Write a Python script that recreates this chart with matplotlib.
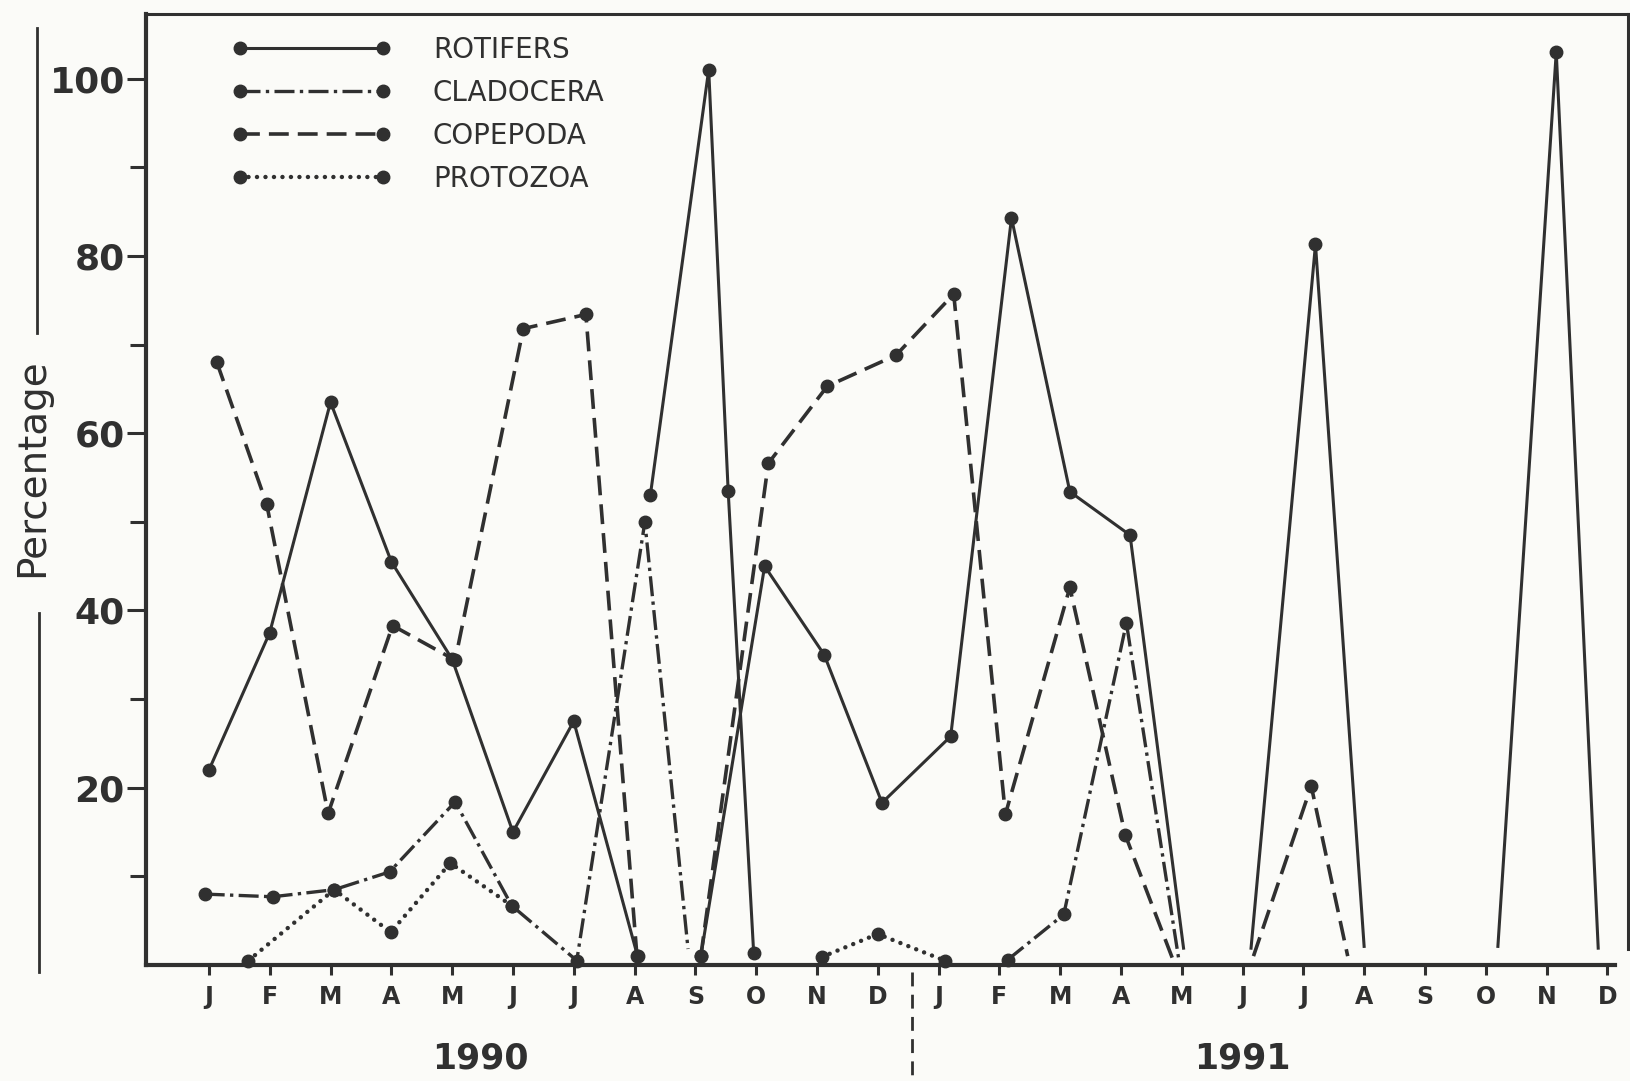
import numpy as np
import matplotlib
matplotlib.use("Agg")
import matplotlib.pyplot as plt
from matplotlib.lines import Line2D

nan = np.nan

months = ["J", "F", "M", "A", "M", "J", "J", "A", "S", "O", "N", "D",
          "J", "F", "M", "A", "M", "J", "J", "A", "S", "O", "N", "D"]
years = ["1990", "1991"]

# x = month index from Jan 1990 (points in the original sit a bit off the ticks)
rot_x = [0, 1, 2, 3, 4, 5, 6, 7.05, nan, 7.26, 8.22, 8.54, 8.96, nan,
         8.09, 9.14, 10.12, 11.07, 12.2, 13.2, 14.16, 15.15, 16.03, nan,
         17.14, 18.2, 19.0, nan, 21.2, 22.16, 22.85]
rot_y = [22, 37.5, 63.5, 45.5, 34.5, 15, 27.5, 1, nan, 53, 101, 53.5, 1.3, nan,
         1, 45, 35, 18.3, 25.8, 84.3, 53.4, 48.5, 1.9, nan,
         1.9, 81.3, 2.1, nan, 2.1, 103, 1.9]
rot_open = [22, 24, 26, 28, 30]

cla_x = [-0.07, 1.05, 2.06, 2.97, 4.05, 4.98, 6.05, 7.17, 7.88, nan,
         13.14, 14.06, 15.09, 15.95]
cla_y = [8, 7.7, 8.5, 10.5, 18.4, 6.7, 0.5, 50, 1.8, nan,
         0.6, 5.7, 38.6, 0.7]
cla_open = [8, 13]

cop_x = [0.13, 0.95, 1.96, 3.02, 4.05, 5.17, 6.2, 7.04, nan,
         8.09, 9.2, 10.17, 11.3, 12.25, 13.1, 14.16, 15.07, 15.85, nan,
         17.18, 18.13, 18.73]
cop_y = [68, 52, 17.1, 38.3, 34.4, 71.8, 73.4, 1, nan,
         1, 56.6, 65.3, 68.8, 75.7, 17, 42.6, 14.7, 0.7, nan,
         1, 20.2, 1]
cop_open = [17, 19, 21]

pro_x = [0.65, 2.06, 2.99, 3.97, 4.98, nan, 10.08, 11.0, 12.1]
pro_y = [0.5, 8.5, 3.7, 11.5, 6.7, nan, 0.9, 3.5, 0.5]
pro_open = []

ink = "#303030"
paper = "#fbfbf8"

series = [
    ("ROTIFERS", rot_x, rot_y, rot_open, dict(ls="-", lw=2.2)),
    ("CLADOCERA", cla_x, cla_y, cla_open, dict(ls=(0, (6, 1.6, 1, 1.6)), lw=2.4)),
    ("COPEPODA", cop_x, cop_y, cop_open, dict(ls=(0, (5.5, 2.5)), lw=2.6)),
    ("PROTOZOA", pro_x, pro_y, pro_open, dict(ls=(0, (0.01, 1.9)), lw=3.2,
                                             dash_capstyle="round")),
]

fig = plt.figure(figsize=(16.3, 10.81), dpi=100, facecolor=paper)
ax = fig.add_axes([145.7 / 1630, 1 - 965 / 1081, (1628 - 145.7) / 1630, (965 - 14) / 1081])
ax.set_facecolor(paper)

handles = []
for name, xs, ys, opened, st in series:
    xs = np.array(xs, float)
    ys = np.array(ys, float)
    ax.plot(xs, ys, color=ink, clip_on=False, zorder=3, **st)
    keep = [i for i in range(len(xs)) if not np.isnan(xs[i]) and i not in opened]
    ax.plot(xs[keep], ys[keep], ls="none", marker="o", ms=9, color=ink,
            clip_on=False, zorder=4)
    handles.append(Line2D([], [], color=ink, marker="o", ms=9, **st))

ax.set_xlim(-1.04, 23.34)
ax.set_ylim(0, 107.3)

for s in ["left", "bottom"]:
    ax.spines[s].set_linewidth(3)
    ax.spines[s].set_color(ink)
for s in ["top", "right"]:
    ax.spines[s].set_linewidth(2.2)
    ax.spines[s].set_color(ink)
ax.spines["bottom"].set_bounds(-1.04, 23.13)
ax.spines["right"].set_bounds(1.8, 107.3)

ax.set_xticks(range(len(months)))
ax.set_xticklabels(months, fontsize=17, fontweight="bold", color=ink)
ax.tick_params(axis="x", direction="out", length=7.5, width=2.2, pad=7, color=ink)

ax.set_yticks([20, 40, 60, 80, 100])
ax.set_yticks([10, 30, 50, 70, 90], minor=True)
ax.set_yticklabels(["20", "40", "60", "80", "100"], fontsize=26, fontweight="bold",
                   color=ink)
ax.tick_params(axis="y", which="major", direction="out", length=13.5, width=2.2,
               pad=1.5, color=ink)
ax.tick_params(axis="y", which="minor", direction="out", length=11.5, width=2.2,
               color=ink)

leg = ax.legend(handles, [s[0] for s in series], loc="upper left",
                bbox_to_anchor=(0.058, 0.977), frameon=False, fontsize=20,
                numpoints=2, handlelength=5.74, handletextpad=1.5,
                labelspacing=0.54, borderpad=0, borderaxespad=0)
for t in leg.get_texts():
    t.set_color(ink)

# 1990 / 1991 divider and year labels below the axis
ax.plot([11.57, 11.57], [-0.8, -13.2], color=ink, lw=2, ls=(0, (5, 3)),
        clip_on=False)
ax.text(4.47, -10.6, years[0], ha="center", va="center", fontsize=25,
        fontweight="bold", color=ink, clip_on=False)
ax.text(17.0, -10.5, years[1], ha="center", va="center", fontsize=25,
        fontweight="bold", color=ink, clip_on=False)

# y label with rules above and below it
fig.text(32.5 / 1630, 1 - 468 / 1081, "Percentage", rotation=90, ha="center",
         va="center", fontsize=28, color=ink)
fig.add_artist(Line2D([37 / 1630] * 2, [1 - 27.6 / 1081, 1 - 333 / 1081],
                      color=ink, lw=2))
fig.add_artist(Line2D([39 / 1630] * 2, [1 - 613 / 1081, 1 - 972 / 1081],
                      color=ink, lw=2))

fig.savefig("out.png", dpi=100, facecolor=paper)
